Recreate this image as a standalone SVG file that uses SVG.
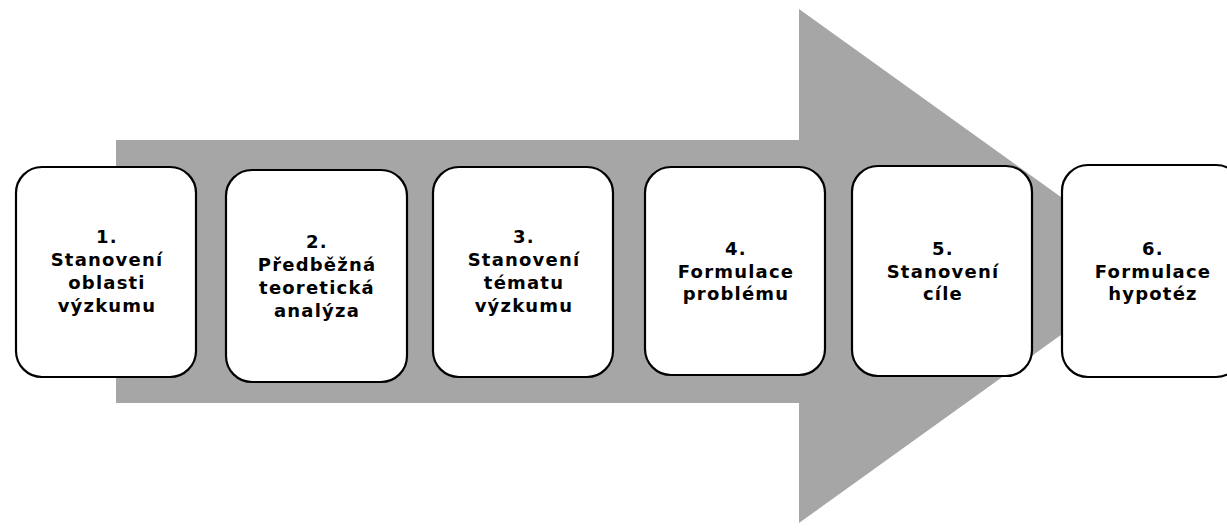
<svg xmlns="http://www.w3.org/2000/svg" width="1227" height="532" viewBox="0 0 1227 532">
<style>
.box{fill:#fff;stroke:#000;stroke-width:2.2}
.t{font-family:"DejaVu Sans",Verdana,sans-serif;font-weight:bold;font-size:18px;letter-spacing:1.2px;text-anchor:middle;fill:#000}
</style>
<rect width="1227" height="532" fill="#fff"/>
<g id="arrow">
<polygon points="116,140 799,140 799,9 1157,266 799,523 799,403 116,403" fill="#a6a6a6"/>
</g>
<g id="node1">
<rect class="box" x="16" y="167" width="180" height="210" rx="26"/>
<text class="t"><tspan x="107" y="243">1.</tspan><tspan x="107" y="266">Stanovení</tspan><tspan x="107" y="289">oblasti</tspan><tspan x="107" y="312">výzkumu</tspan></text>
</g>
<g id="node2">
<rect class="box" x="226" y="170" width="181" height="212" rx="26"/>
<text class="t"><tspan x="317" y="248">2.</tspan><tspan x="317" y="271">Předběžná</tspan><tspan x="317" y="294">teoretická</tspan><tspan x="317" y="317">analýza</tspan></text>
</g>
<g id="node3">
<rect class="box" x="433" y="167" width="180" height="210" rx="26"/>
<text class="t"><tspan x="524" y="243">3.</tspan><tspan x="524" y="266">Stanovení</tspan><tspan x="524" y="289">tématu</tspan><tspan x="524" y="312">výzkumu</tspan></text>
</g>
<g id="node4">
<rect class="box" x="645" y="167" width="180" height="208" rx="26"/>
<text class="t"><tspan x="736" y="255">4.</tspan><tspan x="736" y="278">Formulace</tspan><tspan x="736" y="300">problému</tspan></text>
</g>
<g id="node5">
<rect class="box" x="852" y="166" width="180" height="210" rx="26"/>
<text class="t"><tspan x="943" y="255">5.</tspan><tspan x="943" y="278">Stanovení</tspan><tspan x="943" y="300">cíle</tspan></text>
</g>
<g id="node6">
<rect class="box" x="1062" y="165" width="180" height="212" rx="26"/>
<text class="t"><tspan x="1153" y="255">6.</tspan><tspan x="1153" y="278">Formulace</tspan><tspan x="1153" y="300">hypotéz</tspan></text>
</g>
<g id="connectors"></g>
</svg>
